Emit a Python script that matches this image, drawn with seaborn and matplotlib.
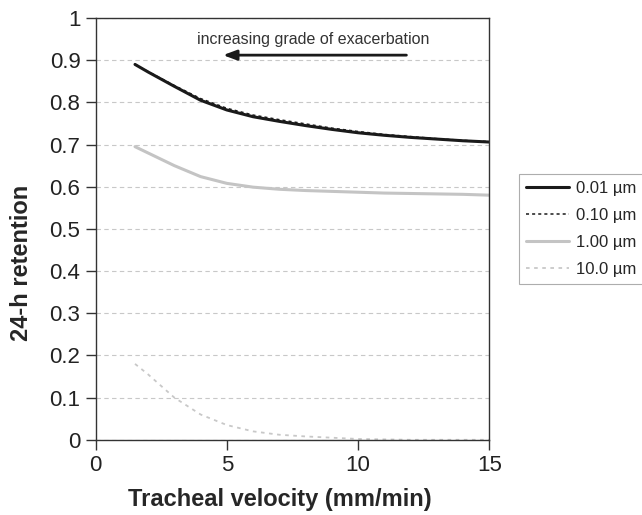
import matplotlib
matplotlib.use("Agg")
import matplotlib.pyplot as plt
import pandas as pd
import seaborn as sns

# Tracheal velocity (mm/min)
velocity = [1.5, 2, 3, 4, 5, 6, 7, 8, 9, 10, 11, 12, 13, 14, 15]

# 24-h retention per particle size
ret_001 = [0.89, 0.872, 0.838, 0.805, 0.782, 0.766, 0.755, 0.745, 0.736, 0.728, 0.722, 0.717, 0.713, 0.709, 0.706]
ret_010 = [0.89, 0.873, 0.840, 0.809, 0.786, 0.770, 0.759, 0.749, 0.739, 0.731, 0.724, 0.719, 0.714, 0.710, 0.707]
ret_100 = [0.695, 0.680, 0.650, 0.624, 0.608, 0.599, 0.594, 0.591, 0.589, 0.587, 0.585, 0.584, 0.583, 0.582, 0.580]
ret_1000 = [0.18, 0.155, 0.10, 0.06, 0.035, 0.02, 0.012, 0.008, 0.005, 0.002, 0.001, 0.0, 0.0, 0.0, 0.0]

sizes = ["0.01 µm", "0.10 µm", "1.00 µm", "10.0 µm"]

df = pd.DataFrame({
    "velocity": velocity * 4,
    "retention": ret_001 + ret_010 + ret_100 + ret_1000,
    "size": [s for s in sizes for _ in velocity],
})

sns.set_style("white")
plt.rcParams["font.family"] = ["Liberation Sans", "DejaVu Sans"]

fig = plt.figure(figsize=(6.42, 5.15), dpi=100)
ax = fig.add_axes([0.149, 0.146, 0.613, 0.819])

styles = {
    "0.01 µm": dict(color="#1a1a1a", lw=2.2, ls="-"),
    "0.10 µm": dict(color="#1a1a1a", lw=1.1, ls=(0, (2, 2))),
    "1.00 µm": dict(color="#c4c4c4", lw=2.2, ls="-"),
    "10.0 µm": dict(color="#c8c8c8", lw=1.3, ls=(0, (2, 2.5))),
}
for s in sizes:
    sub = df[df["size"] == s]
    sns.lineplot(data=sub, x="velocity", y="retention", ax=ax, label=s, **styles[s])

ax.set_xlim(0, 15)
ax.set_ylim(0, 1)
ax.set_xticks([0, 5, 10, 15])
ax.set_yticks([i / 10 for i in range(11)])
ax.set_yticklabels(["0", "0.1", "0.2", "0.3", "0.4", "0.5", "0.6", "0.7", "0.8", "0.9", "1"])
ax.yaxis.grid(True, ls=(0, (4, 3)), color="#c8c8c8", lw=0.8)
ax.xaxis.grid(False)
for sp in ax.spines.values():
    sp.set_color("#333333")
    sp.set_linewidth(1.0)
ax.tick_params(axis="both", direction="out", length=7, width=1, color="#333333",
               labelsize=16, labelcolor="#222222", pad=4, left=True, bottom=True)

ax.set_xlabel("Tracheal velocity (mm/min)", fontsize=17, fontweight="bold")
ax.set_ylabel("24-h retention", fontsize=17, fontweight="bold")
ax.xaxis.set_label_coords(0.468, -0.115)
ax.yaxis.set_label_coords(-0.16, 0.42)

ax.text(8.3, 0.948, "increasing grade of exacerbation", ha="center", va="center",
        fontsize=11.5, color="#333333")
ax.annotate("", xy=(4.75, 0.912), xytext=(11.95, 0.912),
            arrowprops=dict(arrowstyle="-|>,head_length=0.8,head_width=0.3",
                            color="#1a1a1a", lw=2))

leg = ax.legend(loc="upper left", bbox_to_anchor=(1.055, 0.649), fontsize=12,
                frameon=True, fancybox=False, handlelength=2.6, handletextpad=0.42,
                borderpad=0.4, labelspacing=0.72, edgecolor="#999999")
leg.get_frame().set_linewidth(0.8)

fig.savefig("out.png", dpi=100)
